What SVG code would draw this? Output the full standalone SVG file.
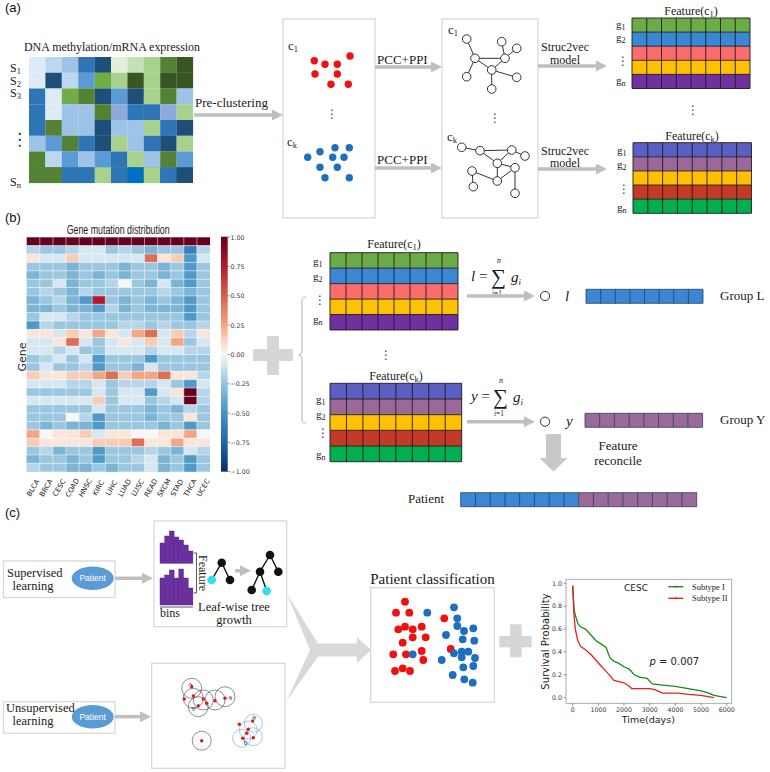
<svg xmlns="http://www.w3.org/2000/svg" xmlns:xlink="http://www.w3.org/1999/xlink" width="770" height="772" viewBox="0 0 770 772">
<defs>
<style>
.serif{font-family:"Liberation Serif","Times New Roman",serif;fill:#1a1a1a}
.sans{font-family:"Liberation Sans",Arial,sans-serif;fill:#1a1a1a}
.dv{font-family:"DejaVu Sans",sans-serif;fill:#222}
.panel{font-family:"Liberation Sans",Arial,sans-serif;font-size:13px;fill:#111}
.box{fill:#fff;stroke:#d6d6d6;stroke-width:1.2}
.conn{stroke:#bfbfbf;stroke-width:3.5;fill:none}
.grid{stroke:#1c1c1c;stroke-width:0.9;fill:none;vector-effect:non-scaling-stroke}
.bgrid{stroke:#2b3f5c;stroke-width:0.8;fill:none;vector-effect:non-scaling-stroke}
.gn{fill:#fff;stroke:#333;stroke-width:1}
.ge{stroke:#333;stroke-width:1;fill:none}
.vd{fill:#333}
.vl{fill:#ddebf7}.lb{fill:#bdd7ee}.l2{fill:#9dc3e6}.mb{fill:#5b9bd5}.bl{fill:#2e75b6}.db{fill:#1f4e79}.bb{fill:#0070c0}.lv{fill:#8fa9dc}
.vg{fill:#e2f0d9}.lg{fill:#c5e0b4}.l3{fill:#a9d18e}.gr{fill:#70ad47}.mg{fill:#548235}.dg{fill:#375623}
.hm .a{fill:#d6e7f1}.hm .b{fill:#b7d5e8}.hm .c{fill:#9ac6df}.hm .d{fill:#7cb4d6}.hm .e{fill:#4f9ac9}.hm .f{fill:#3a7fb8}
.hm .w{fill:#f7f7f7}.hm .p{fill:#f9e5da}.hm .q{fill:#f8cdb5}.hm .r{fill:#f3a683}.hm .s{fill:#dc6f55}.hm .t{fill:#b2182b}.hm .k{fill:#67001f}
.red{fill:#f01010}.blu{fill:#1f6fc0}
.plus{fill:#d6d6d6}
.tk{font-family:"DejaVu Sans",sans-serif;font-size:6.3px;fill:#333}
</style>
<marker id="ah" viewBox="0 0 11 11" refX="6" refY="5.5" markerWidth="11" markerHeight="11" markerUnits="userSpaceOnUse" orient="auto">
<path d="M0,0L11,5.5L0,11z" fill="#bfbfbf"/>
</marker>
<rect id="tc" width="16.5" height="15.85"/>
<rect id="hc" width="13.1" height="8.37"/>
<path id="g85" class="grid" d="M0,0H8V5H0Z M0,1H8 M0,2H8 M0,3H8 M0,4H8 M1,0V5 M2,0V5 M3,0V5 M4,0V5 M5,0V5 M6,0V5 M7,0V5"/>
<path id="g81" class="bgrid" d="M0,0H8V1H0Z M1,0V1 M2,0V1 M3,0V1 M4,0V1 M5,0V1 M6,0V1 M7,0V1"/>
<path id="g161" class="bgrid" d="M0,0H16V1H0Z M1,0V1 M2,0V1 M3,0V1 M4,0V1 M5,0V1 M6,0V1 M7,0V1 M8,0V1 M9,0V1 M10,0V1 M11,0V1 M12,0V1 M13,0V1 M14,0V1 M15,0V1"/>
<linearGradient id="cbar" x1="0" y1="0" x2="0" y2="1">
<stop offset="0" stop-color="#67001f"/><stop offset="0.125" stop-color="#b2182b"/><stop offset="0.25" stop-color="#d6604d"/><stop offset="0.375" stop-color="#f4a582"/><stop offset="0.45" stop-color="#fddbc7"/><stop offset="0.5" stop-color="#f7f7f7"/><stop offset="0.55" stop-color="#d1e5f0"/><stop offset="0.625" stop-color="#92c5de"/><stop offset="0.75" stop-color="#4393c3"/><stop offset="0.875" stop-color="#2166ac"/><stop offset="1" stop-color="#053061"/>
</linearGradient>
</defs>
<rect width="770" height="772" fill="#fff"/>

<text class="panel" x="5" y="12">(a)</text>
<text class="panel" x="5" y="222">(b)</text>
<text class="panel" x="5" y="517">(c)</text>

<!-- (a) input heatmap -->
<g id="omics-heatmap">
<text class="serif" x="24" y="51" font-size="12" textLength="176">DNA methylation/mRNA expression</text>
<g transform="translate(0,57)"><use href="#tc" x="29" class="vl"/><use href="#tc" x="45.4" class="lb"/><use href="#tc" x="61.8" class="l2"/><use href="#tc" x="78.2" class="bl"/><use href="#tc" x="94.6" class="db"/><use href="#tc" x="111" class="vg"/><use href="#tc" x="127.4" class="lg"/><use href="#tc" x="143.8" class="l3"/><use href="#tc" x="160.2" class="mg"/><use href="#tc" x="176.6" class="dg"/></g>
<g transform="translate(0,72.75)"><use href="#tc" x="29" class="vl"/><use href="#tc" x="45.4" class="db"/><use href="#tc" x="61.8" class="lb"/><use href="#tc" x="78.2" class="mb"/><use href="#tc" x="94.6" class="gr"/><use href="#tc" x="111" class="l3"/><use href="#tc" x="127.4" class="dg"/><use href="#tc" x="143.8" class="l3"/><use href="#tc" x="160.2" class="dg"/><use href="#tc" x="176.6" class="dg"/></g>
<g transform="translate(0,88.5)"><use href="#tc" x="29" class="bl"/><use href="#tc" x="45.4" class="vl"/><use href="#tc" x="61.8" class="gr"/><use href="#tc" x="78.2" class="mg"/><use href="#tc" x="94.6" class="db"/><use href="#tc" x="111" class="mb"/><use href="#tc" x="127.4" class="db"/><use href="#tc" x="143.8" class="l3"/><use href="#tc" x="160.2" class="mg"/><use href="#tc" x="176.6" class="l2"/></g>
<g transform="translate(0,104.25)"><use href="#tc" x="29" class="bl"/><use href="#tc" x="45.4" class="vl"/><use href="#tc" x="61.8" class="l2"/><use href="#tc" x="78.2" class="l2"/><use href="#tc" x="94.6" class="mg"/><use href="#tc" x="111" class="lv"/><use href="#tc" x="127.4" class="bl"/><use href="#tc" x="143.8" class="bl"/><use href="#tc" x="160.2" class="lv"/><use href="#tc" x="176.6" class="l3"/></g>
<g transform="translate(0,120)"><use href="#tc" x="29" class="bl"/><use href="#tc" x="45.4" class="mg"/><use href="#tc" x="61.8" class="l2"/><use href="#tc" x="78.2" class="l2"/><use href="#tc" x="94.6" class="db"/><use href="#tc" x="111" class="l2"/><use href="#tc" x="127.4" class="l2"/><use href="#tc" x="143.8" class="l3"/><use href="#tc" x="160.2" class="bl"/><use href="#tc" x="176.6" class="db"/></g>
<g transform="translate(0,135.75)"><use href="#tc" x="29" class="l2"/><use href="#tc" x="45.4" class="mb"/><use href="#tc" x="61.8" class="mg"/><use href="#tc" x="78.2" class="bl"/><use href="#tc" x="94.6" class="db"/><use href="#tc" x="111" class="l3"/><use href="#tc" x="127.4" class="l2"/><use href="#tc" x="143.8" class="bl"/><use href="#tc" x="160.2" class="db"/><use href="#tc" x="176.6" class="l3"/></g>
<g transform="translate(0,151.5)"><use href="#tc" x="29" class="mg"/><use href="#tc" x="45.4" class="lb"/><use href="#tc" x="61.8" class="mb"/><use href="#tc" x="78.2" class="l2"/><use href="#tc" x="94.6" class="mb"/><use href="#tc" x="111" class="bl"/><use href="#tc" x="127.4" class="l3"/><use href="#tc" x="143.8" class="l2"/><use href="#tc" x="160.2" class="mg"/><use href="#tc" x="176.6" class="mb"/></g>
<g transform="translate(0,167.25)"><rect x="29" width="164" height="15.75" fill="#548235"/><use href="#tc" x="29" class="mg"/><use href="#tc" x="45.4" class="mg"/><use href="#tc" x="61.8" class="bl"/><use href="#tc" x="78.2" class="bl"/><use href="#tc" x="94.6" class="l3"/><use href="#tc" x="111" class="bl"/><use href="#tc" x="127.4" class="bb"/><use href="#tc" x="143.8" class="l3"/><use href="#tc" x="160.2" class="bl"/><rect x="176.6" width="16.4" height="15.75" fill="#1f4e79"/></g>
<text class="serif" x="10" y="72" font-size="12">S<tspan font-size="8.5" dy="2">1</tspan></text>
<text class="serif" x="10" y="84.5" font-size="12">S<tspan font-size="8.5" dy="2">2</tspan></text>
<text class="serif" x="10" y="97" font-size="12">S<tspan font-size="8.5" dy="2">3</tspan></text>
<text class="dv vd" x="11" y="145" font-size="17">⋮</text>
<text class="serif" x="10" y="186" font-size="12">S<tspan font-size="8.5" dy="2">n</tspan></text>
</g>
<text class="serif" x="195" y="107" font-size="13">Pre-clustering</text>

<!-- clusters box -->
<g id="clusters">
<rect class="box" x="283" y="19" width="92" height="199"/>
<text class="serif" x="288" y="50" font-size="13">c<tspan font-size="8.5" dy="2">1</tspan></text>
<circle class="red" cx="314.3" cy="60.7" r="3.7"/><circle class="red" cx="325" cy="64.3" r="3.7"/><circle class="red" cx="337.3" cy="64.3" r="3.7"/><circle class="red" cx="350" cy="56" r="3.7"/><circle class="red" cx="315" cy="74" r="3.7"/><circle class="red" cx="337.3" cy="74" r="3.7"/><circle class="red" cx="331" cy="84.3" r="3.7"/><circle class="red" cx="348.3" cy="84.3" r="3.7"/>
<text class="dv vd" x="326" y="118" font-size="12">⋮</text>
<text class="serif" x="287" y="146" font-size="13">c<tspan font-size="8.5" dy="2">k</tspan></text>
<circle class="blu" cx="307.7" cy="157.3" r="3.7"/><circle class="blu" cx="320" cy="151.7" r="3.7"/><circle class="blu" cx="335" cy="147.7" r="3.7"/><circle class="blu" cx="349.3" cy="147.7" r="3.7"/><circle class="blu" cx="332.7" cy="157.3" r="3.7"/><circle class="blu" cx="344" cy="157.3" r="3.7"/><circle class="blu" cx="320" cy="167.3" r="3.7"/><circle class="blu" cx="337.3" cy="167.3" r="3.7"/><circle class="blu" cx="325" cy="177.7" r="3.7"/><circle class="blu" cx="349.3" cy="177.7" r="3.7"/>
</g>
<text class="serif" x="377" y="64" font-size="13">PCC+PPI</text>
<text class="serif" x="377" y="164" font-size="13">PCC+PPI</text>

<!-- graphs box -->
<g id="networks">
<rect class="box" x="442" y="19" width="96" height="199"/>
<text class="serif" x="448" y="34" font-size="13">c<tspan font-size="8.5" dy="2">1</tspan></text>
<path class="ge" d="M466.7,39L475,58.3L505,58.3L501.7,41.7M505,58.3L516.7,48.3M475,58.3L491.7,70L505,58.3M475,58.3L466.7,76.7M491.7,70L516.7,77.3M491.7,70L491.7,89"/>
<circle class="gn" cx="466.7" cy="39" r="4.3"/><circle class="gn" cx="501.7" cy="41.7" r="4.3"/><circle class="gn" cx="516.7" cy="48.3" r="4.3"/><circle class="gn" cx="475" cy="58.3" r="4.3"/><circle class="gn" cx="505" cy="58.3" r="4.3"/><circle class="gn" cx="491.7" cy="70" r="4.3"/><circle class="gn" cx="466.7" cy="76.7" r="4.3"/><circle class="gn" cx="516.7" cy="77.3" r="4.3"/><circle class="gn" cx="491.7" cy="89" r="4.3"/>
<text class="dv vd" x="489" y="122" font-size="12">⋮</text>
<text class="serif" x="447" y="141" font-size="13">c<tspan font-size="8.5" dy="2">k</tspan></text>
<path class="ge" d="M461.7,147.3L480,150.7L511.7,150L525,156M480,150.7L497.3,163.3L511.7,150M497.3,163.3L515,167.7L497.3,181L497.3,163.3M515,167.7L515,193.3M472,171L497.3,181M472,171L473.3,186.7"/>
<circle class="gn" cx="461.7" cy="147.3" r="4.3"/><circle class="gn" cx="480" cy="150.7" r="4.3"/><circle class="gn" cx="511.7" cy="150" r="4.3"/><circle class="gn" cx="525" cy="156" r="4.3"/><circle class="gn" cx="497.3" cy="163.3" r="4.3"/><circle class="gn" cx="515" cy="167.7" r="4.3"/><circle class="gn" cx="472" cy="171" r="4.3"/><circle class="gn" cx="497.3" cy="181" r="4.3"/><circle class="gn" cx="473.3" cy="186.7" r="4.3"/><circle class="gn" cx="515" cy="193.3" r="4.3"/>
</g>
<text class="serif" x="565" y="51" font-size="12" text-anchor="middle">Struc2vec</text>
<text class="serif" x="565" y="63.5" font-size="12" text-anchor="middle">model</text>
<text class="serif" x="565" y="154.5" font-size="12" text-anchor="middle">Struc2vec</text>
<text class="serif" x="565" y="167" font-size="12" text-anchor="middle">model</text>

<!-- top-right features -->
<g id="feature-c1-top">
<text class="serif" x="691" y="15" font-size="12" text-anchor="middle">Feature(c<tspan font-size="8.5" dy="2">1</tspan><tspan dy="-2">)</tspan></text>
<g transform="translate(632,18) scale(14.75,14.1)"><rect width="8" height="1" fill="#6aad46"/><rect y="1" width="8" height="1" fill="#3a87d3"/><rect y="2" width="8" height="1" fill="#fb6d6d"/><rect y="3" width="8" height="1" fill="#ffc000"/><rect y="4" width="8" height="1" fill="#7030a0"/><use href="#g85"/></g>
<text class="serif" x="616" y="28" font-size="11">g<tspan font-size="8" dy="2">1</tspan></text>
<text class="serif" x="616" y="41" font-size="11">g<tspan font-size="8" dy="2">2</tspan></text>
<text class="dv vd" x="617" y="65" font-size="12">⋮</text>
<text class="serif" x="616" y="84" font-size="11">g<tspan font-size="8" dy="2">n</tspan></text>
</g>
<text class="dv vd" x="687" y="114" font-size="12">⋮</text>
<g id="feature-ck-top">
<text class="serif" x="692" y="140" font-size="12" text-anchor="middle">Feature(c<tspan font-size="8.5" dy="2">k</tspan><tspan dy="-2">)</tspan></text>
<g transform="translate(633,142.7) scale(14.81,14.12)"><rect width="8" height="1" fill="#5b5ec2"/><rect y="1" width="8" height="1" fill="#9c689c"/><rect y="2" width="8" height="1" fill="#ffc000"/><rect y="3" width="8" height="1" fill="#c43a28"/><rect y="4" width="8" height="1" fill="#00b050"/><use href="#g85"/></g>
<text class="serif" x="617" y="154" font-size="11">g<tspan font-size="8" dy="2">1</tspan></text>
<text class="serif" x="617" y="168" font-size="11">g<tspan font-size="8" dy="2">2</tspan></text>
<text class="dv vd" x="618" y="193" font-size="12">⋮</text>
<text class="serif" x="617" y="211" font-size="11">g<tspan font-size="8" dy="2">n</tspan></text>
</g>

<!-- (b) gene mutation heatmap -->
<g id="gene-heatmap" class="hm">
<text class="sans" x="66.7" y="234" font-size="12" textLength="103" lengthAdjust="spacingAndGlyphs">Gene mutation distribution</text>
<rect x="26.7" y="237.3" width="183.3" height="8.37" class="k"/>
<g transform="translate(0,245.7)"><rect x="26.7" width="183.3" height="8.37" class="c"/><use href="#hc" x="26.7" class="b"/><use href="#hc" x="66" class="b"/><use href="#hc" x="79.1" class="a"/><use href="#hc" x="92.2" class="a"/><use href="#hc" x="118.3" class="b"/><use href="#hc" x="144.5" class="d"/><use href="#hc" x="183.8" class="f"/><use href="#hc" x="196.9" class="b"/></g>
<g transform="translate(0,254)"><rect x="26.7" width="183.3" height="8.37" class="a"/><use href="#hc" x="26.7" class="p"/><use href="#hc" x="66" class="q"/><use href="#hc" x="144.5" class="s"/><use href="#hc" x="157.6" class="p"/><use href="#hc" x="170.7" class="q"/><use href="#hc" x="183.8" class="e"/></g>
<g transform="translate(0,262.4)"><rect x="26.7" width="183.3" height="8.37" class="c"/><use href="#hc" x="66" class="d"/><use href="#hc" x="118.3" class="d"/><use href="#hc" x="157.6" class="d"/><use href="#hc" x="183.8" class="e"/></g>
<g transform="translate(0,270.8)"><rect x="26.7" width="183.3" height="8.37" class="c"/><use href="#hc" x="26.7" class="d"/><use href="#hc" x="66" class="d"/><use href="#hc" x="92.2" class="d"/><use href="#hc" x="118.3" class="d"/><use href="#hc" x="157.6" class="d"/><use href="#hc" x="183.8" class="e"/></g>
<g transform="translate(0,279.2)"><rect x="26.7" width="183.3" height="8.37" class="c"/><use href="#hc" x="52.9" class="a"/><use href="#hc" x="66" class="d"/><use href="#hc" x="105.3" class="b"/><use href="#hc" x="118.3" class="w"/><use href="#hc" x="144.5" class="d"/><use href="#hc" x="157.6" class="a"/><use href="#hc" x="170.7" class="d"/><use href="#hc" x="183.8" class="e"/></g>
<g transform="translate(0,287.5)"><rect x="26.7" width="183.3" height="8.37" class="c"/><use href="#hc" x="39.8" class="b"/><use href="#hc" x="66" class="d"/><use href="#hc" x="79.1" class="b"/><use href="#hc" x="157.6" class="b"/><use href="#hc" x="183.8" class="d"/></g>
<g transform="translate(0,295.9)"><rect x="26.7" width="183.3" height="8.37" class="c"/><use href="#hc" x="26.7" class="d"/><use href="#hc" x="52.9" class="b"/><use href="#hc" x="66" class="d"/><use href="#hc" x="79.1" class="e"/><use href="#hc" x="92.2" class="t"/><use href="#hc" x="118.3" class="d"/><use href="#hc" x="144.5" class="d"/><use href="#hc" x="170.7" class="d"/><use href="#hc" x="183.8" class="e"/></g>
<g transform="translate(0,304.3)"><rect x="26.7" width="183.3" height="8.37" class="d"/><use href="#hc" x="52.9" class="c"/><use href="#hc" x="92.2" class="e"/><use href="#hc" x="105.3" class="b"/><use href="#hc" x="131.4" class="c"/><use href="#hc" x="183.8" class="e"/><use href="#hc" x="196.9" class="c"/></g>
<g transform="translate(0,312.6)"><rect x="26.7" width="183.3" height="8.37" class="c"/><use href="#hc" x="39.8" class="a"/><use href="#hc" x="52.9" class="a"/><use href="#hc" x="66" class="b"/><use href="#hc" x="183.8" class="e"/></g>
<g transform="translate(0,321)"><rect x="26.7" width="183.3" height="8.37" class="c"/><use href="#hc" x="26.7" class="e"/><use href="#hc" x="39.8" class="b"/><use href="#hc" x="118.3" class="b"/><use href="#hc" x="131.4" class="b"/><use href="#hc" x="157.6" class="b"/><use href="#hc" x="196.9" class="b"/></g>
<g transform="translate(0,329.4)"><rect x="26.7" width="183.3" height="8.37" class="p"/><use href="#hc" x="52.9" class="a"/><use href="#hc" x="66" class="q"/><use href="#hc" x="92.2" class="r"/><use href="#hc" x="118.3" class="a"/><use href="#hc" x="131.4" class="r"/><use href="#hc" x="144.5" class="s"/><use href="#hc" x="157.6" class="a"/><use href="#hc" x="170.7" class="q"/><use href="#hc" x="183.8" class="b"/></g>
<g transform="translate(0,337.7)"><rect x="26.7" width="183.3" height="8.37" class="a"/><use href="#hc" x="52.9" class="p"/><use href="#hc" x="66" class="s"/><use href="#hc" x="92.2" class="c"/><use href="#hc" x="118.3" class="p"/><use href="#hc" x="144.5" class="q"/><use href="#hc" x="170.7" class="r"/><use href="#hc" x="183.8" class="c"/></g>
<g transform="translate(0,346.1)"><rect x="26.7" width="183.3" height="8.37" class="a"/><use href="#hc" x="52.9" class="b"/><use href="#hc" x="79.1" class="c"/><use href="#hc" x="92.2" class="c"/><use href="#hc" x="144.5" class="b"/><use href="#hc" x="183.8" class="b"/><use href="#hc" x="196.9" class="b"/></g>
<g transform="translate(0,354.5)"><rect x="26.7" width="183.3" height="8.37" class="c"/><use href="#hc" x="39.8" class="b"/><use href="#hc" x="52.9" class="a"/><use href="#hc" x="79.1" class="a"/><use href="#hc" x="92.2" class="e"/><use href="#hc" x="144.5" class="e"/></g>
<g transform="translate(0,362.9)"><rect x="26.7" width="183.3" height="8.37" class="c"/><use href="#hc" x="39.8" class="a"/><use href="#hc" x="79.1" class="b"/><use href="#hc" x="92.2" class="e"/><use href="#hc" x="131.4" class="d"/><use href="#hc" x="144.5" class="a"/></g>
<g transform="translate(0,371.2)"><rect x="26.7" width="183.3" height="8.37" class="p"/><use href="#hc" x="26.7" class="q"/><use href="#hc" x="66" class="q"/><use href="#hc" x="79.1" class="q"/><use href="#hc" x="92.2" class="r"/><use href="#hc" x="105.3" class="s"/><use href="#hc" x="118.3" class="q"/><use href="#hc" x="131.4" class="r"/><use href="#hc" x="144.5" class="r"/><use href="#hc" x="157.6" class="s"/><use href="#hc" x="196.9" class="b"/></g>
<g transform="translate(0,379.6)"><rect x="26.7" width="183.3" height="8.37" class="a"/><use href="#hc" x="66" class="b"/><use href="#hc" x="79.1" class="b"/><use href="#hc" x="105.3" class="c"/><use href="#hc" x="118.3" class="b"/><use href="#hc" x="131.4" class="b"/><use href="#hc" x="144.5" class="b"/><use href="#hc" x="170.7" class="c"/><use href="#hc" x="183.8" class="e"/></g>
<g transform="translate(0,388)"><rect x="26.7" width="183.3" height="8.37" class="c"/><use href="#hc" x="92.2" class="a"/><use href="#hc" x="118.3" class="a"/><use href="#hc" x="131.4" class="a"/><use href="#hc" x="144.5" class="e"/><use href="#hc" x="157.6" class="a"/><use href="#hc" x="170.7" class="p"/><use href="#hc" x="183.8" class="k"/><use href="#hc" x="196.9" class="b"/></g>
<g transform="translate(0,396.3)"><rect x="26.7" width="183.3" height="8.37" class="a"/><use href="#hc" x="92.2" class="q"/><use href="#hc" x="105.3" class="c"/><use href="#hc" x="144.5" class="c"/><use href="#hc" x="157.6" class="b"/><use href="#hc" x="183.8" class="k"/><use href="#hc" x="196.9" class="b"/></g>
<g transform="translate(0,404.7)"><rect x="26.7" width="183.3" height="8.37" class="c"/><use href="#hc" x="92.2" class="a"/><use href="#hc" x="144.5" class="d"/><use href="#hc" x="170.7" class="d"/><use href="#hc" x="183.8" class="b"/></g>
<g transform="translate(0,413.1)"><rect x="26.7" width="183.3" height="8.37" class="c"/><use href="#hc" x="66" class="w"/><use href="#hc" x="79.1" class="b"/><use href="#hc" x="92.2" class="e"/><use href="#hc" x="144.5" class="d"/><use href="#hc" x="183.8" class="p"/></g>
<g transform="translate(0,421.4)"><rect x="26.7" width="183.3" height="8.37" class="c"/><use href="#hc" x="39.8" class="d"/><use href="#hc" x="66" class="d"/><use href="#hc" x="79.1" class="d"/><use href="#hc" x="92.2" class="e"/><use href="#hc" x="157.6" class="d"/><use href="#hc" x="183.8" class="e"/></g>
<g transform="translate(0,429.8)"><rect x="26.7" width="183.3" height="8.37" class="p"/><use href="#hc" x="26.7" class="r"/><use href="#hc" x="39.8" class="w"/><use href="#hc" x="79.1" class="q"/><use href="#hc" x="92.2" class="a"/><use href="#hc" x="131.4" class="w"/><use href="#hc" x="144.5" class="w"/><use href="#hc" x="183.8" class="r"/><use href="#hc" x="196.9" class="w"/></g>
<g transform="translate(0,438.2)"><rect x="26.7" width="183.3" height="8.37" class="p"/><use href="#hc" x="26.7" class="q"/><use href="#hc" x="92.2" class="q"/><use href="#hc" x="105.3" class="q"/><use href="#hc" x="118.3" class="q"/><use href="#hc" x="131.4" class="s"/><use href="#hc" x="170.7" class="r"/></g>
<g transform="translate(0,446.6)"><rect x="26.7" width="183.3" height="8.37" class="c"/><use href="#hc" x="39.8" class="b"/><use href="#hc" x="52.9" class="d"/><use href="#hc" x="92.2" class="e"/><use href="#hc" x="144.5" class="b"/><use href="#hc" x="170.7" class="d"/><use href="#hc" x="183.8" class="a"/><use href="#hc" x="196.9" class="b"/></g>
<g transform="translate(0,454.9)"><rect x="26.7" width="183.3" height="8.37" class="c"/><use href="#hc" x="26.7" class="d"/><use href="#hc" x="66" class="d"/><use href="#hc" x="92.2" class="e"/><use href="#hc" x="131.4" class="b"/><use href="#hc" x="144.5" class="a"/><use href="#hc" x="157.6" class="d"/><use href="#hc" x="183.8" class="e"/></g>
<g transform="translate(0,463.3)"><rect x="26.7" width="183.3" height="8.37" class="c"/><use href="#hc" x="26.7" class="b"/><use href="#hc" x="66" class="d"/><use href="#hc" x="79.1" class="d"/><use href="#hc" x="105.3" class="d"/><use href="#hc" x="144.5" class="a"/><use href="#hc" x="157.6" class="d"/><use href="#hc" x="183.8" class="e"/></g>
<path stroke="#fff" stroke-width="0.5" fill="none" d="M39.8,237.3V471.7M52.9,237.3V471.7M66,237.3V471.7M79.1,237.3V471.7M92.2,237.3V471.7M105.3,237.3V471.7M118.3,237.3V471.7M131.4,237.3V471.7M144.5,237.3V471.7M157.6,237.3V471.7M170.7,237.3V471.7M183.8,237.3V471.7M196.9,237.3V471.7M26.7,245.7H210M26.7,254H210M26.7,262.4H210M26.7,270.8H210M26.7,279.2H210M26.7,287.5H210M26.7,295.9H210M26.7,304.3H210M26.7,312.6H210M26.7,321H210M26.7,329.4H210M26.7,337.7H210M26.7,346.1H210M26.7,354.5H210M26.7,362.9H210M26.7,371.2H210M26.7,379.6H210M26.7,388H210M26.7,396.3H210M26.7,404.7H210M26.7,413.1H210M26.7,421.4H210M26.7,429.8H210M26.7,438.2H210M26.7,446.6H210M26.7,454.9H210M26.7,463.3H210"/>
<text class="dv" font-size="11" transform="translate(25.5,357) rotate(-90)" text-anchor="middle">Gene</text>
<g class="dv" font-size="7" text-anchor="middle">
<text transform="translate(35,489) rotate(-60)">BLCA</text>
<text transform="translate(48.1,489) rotate(-60)">BRCA</text>
<text transform="translate(61.2,489) rotate(-60)">CESC</text>
<text transform="translate(74.3,489) rotate(-60)">COAD</text>
<text transform="translate(87.4,489) rotate(-60)">HNSC</text>
<text transform="translate(100.5,489) rotate(-60)">KIRC</text>
<text transform="translate(113.6,489) rotate(-60)">LIHC</text>
<text transform="translate(126.7,489) rotate(-60)">LUAD</text>
<text transform="translate(139.8,489) rotate(-60)">LUSC</text>
<text transform="translate(152.9,489) rotate(-60)">READ</text>
<text transform="translate(166,489) rotate(-60)">SKCM</text>
<text transform="translate(179.1,489) rotate(-60)">STAD</text>
<text transform="translate(192.2,489) rotate(-60)">THCA</text>
<text transform="translate(205.3,489) rotate(-60)">UCEC</text>
</g>
<rect x="221" y="236.7" width="6.7" height="235" fill="url(#cbar)"/>
<path stroke="#333" stroke-width="0.5" d="M227.7,237H230M227.7,266.4H230M227.7,295.8H230M227.7,325.1H230M227.7,354.5H230M227.7,383.9H230M227.7,413.3H230M227.7,442.6H230M227.7,471.5H230"/>
<g class="tk">
<text x="230.5" y="239.5">1.00</text><text x="230.5" y="268.9">0.75</text><text x="230.5" y="298.3">0.50</text><text x="230.5" y="327.6">0.25</text><text x="230.5" y="357">0.00</text><text x="230.5" y="386.4">−0.25</text><text x="230.5" y="415.8">−0.50</text><text x="230.5" y="445.1">−0.75</text><text x="230.5" y="474">−1.00</text>
</g>
</g>

<g id="plus-1"><rect class="plus" x="253" y="349" width="40" height="12"/><rect class="plus" x="267" y="336" width="12" height="39"/></g>
<path id="brace" d="M306,297 C301,297 302,300 302,306 L302,350 C302,353 301,355 299,355 C301,355 302,357 302,360 L302,417 C302,421 301,423 306,423" fill="none" stroke="#aaa" stroke-width="0.9"/>

<!-- middle features -->
<g id="feature-c1-mid">
<text class="serif" x="394" y="248" font-size="12" text-anchor="middle">Feature(c<tspan font-size="8.5" dy="2">1</tspan><tspan dy="-2">)</tspan></text>
<g transform="translate(330,252.7) scale(16,15.46)"><rect width="8" height="1" fill="#6aad46"/><rect y="1" width="8" height="1" fill="#3a87d3"/><rect y="2" width="8" height="1" fill="#fb6d6d"/><rect y="3" width="8" height="1" fill="#ffc000"/><rect y="4" width="8" height="1" fill="#7030a0"/><use href="#g85"/></g>
<text class="serif" x="313" y="265" font-size="11">g<tspan font-size="8" dy="2">1</tspan></text>
<text class="serif" x="313" y="280" font-size="11">g<tspan font-size="8" dy="2">2</tspan></text>
<text class="dv vd" x="314" y="304" font-size="12">⋮</text>
<text class="serif" x="313" y="323" font-size="11">g<tspan font-size="8" dy="2">n</tspan></text>
</g>
<text class="dv vd" x="380" y="359" font-size="12">⋮</text>
<g id="feature-ck-mid">
<text class="serif" x="396" y="380" font-size="12" text-anchor="middle">Feature(c<tspan font-size="8.5" dy="2">k</tspan><tspan dy="-2">)</tspan></text>
<g transform="translate(330,383.3) scale(16.46,15.68)"><rect width="8" height="1" fill="#5b5ec2"/><rect y="1" width="8" height="1" fill="#9c689c"/><rect y="2" width="8" height="1" fill="#ffc000"/><rect y="3" width="8" height="1" fill="#c43a28"/><rect y="4" width="8" height="1" fill="#00b050"/><use href="#g85"/></g>
<text class="serif" x="316" y="403" font-size="11">g<tspan font-size="8" dy="2">1</tspan></text>
<text class="serif" x="316" y="418" font-size="11">g<tspan font-size="8" dy="2">2</tspan></text>
<text class="dv vd" x="317" y="437" font-size="12">⋮</text>
<text class="serif" x="316" y="458" font-size="11">g<tspan font-size="8" dy="2">n</tspan></text>
</g>

<!-- formulas -->
<g id="formula-l">
<text class="serif" x="471" y="281" font-size="15"><tspan font-style="italic">l</tspan> =</text>
<text class="serif" x="491" y="284" font-size="21">∑</text>
<text class="serif" x="497" y="263" font-size="8" font-style="italic">n</text>
<text class="serif" x="492" y="295.5" font-size="7.5"><tspan font-style="italic">i</tspan>=1</text>
<text class="serif" x="511" y="282" font-size="15" font-style="italic">g<tspan font-size="9" dy="3">i</tspan></text>
</g>
<g id="formula-y">
<text class="serif" x="471" y="401" font-size="15"><tspan font-style="italic">y</tspan> =</text>
<text class="serif" x="493" y="404" font-size="21">∑</text>
<text class="serif" x="499" y="383" font-size="8" font-style="italic">n</text>
<text class="serif" x="494" y="416" font-size="7.5"><tspan font-style="italic">i</tspan>=1</text>
<text class="serif" x="513" y="402" font-size="15" font-style="italic">g<tspan font-size="9" dy="3">i</tspan></text>
</g>

<g id="group-l">
<circle cx="545" cy="296" r="4.6" fill="#fff" stroke="#333" stroke-width="1"/>
<text class="serif" x="565" y="301" font-size="15" font-style="italic">l</text>
<g transform="translate(586,289.3) scale(14.625,14)"><rect width="8" height="1" fill="#3a87d4"/><use href="#g81"/></g>
<text class="serif" x="720" y="300" font-size="13">Group L</text>
</g>
<g id="group-y">
<circle cx="545" cy="421.7" r="4.6" fill="#fff" stroke="#333" stroke-width="1"/>
<text class="serif" x="566" y="426" font-size="15" font-style="italic">y</text>
<g transform="translate(585,413.3) scale(14.7,14)"><rect width="8" height="1" fill="#9b6a9b"/><use href="#g81"/></g>
<text class="serif" x="720" y="424" font-size="13">Group Y</text>
</g>
<polygon id="reconcile-arrow" points="546,434 561,434 561,458 567.5,458 553.5,471.5 539.5,458 546,458" fill="#c8c8c8"/>
<text class="serif" x="618" y="450" font-size="13" text-anchor="middle">Feature</text>
<text class="serif" x="618" y="465" font-size="13" text-anchor="middle">reconcile</text>
<g id="patient-vector">
<text class="serif" x="408" y="503" font-size="13">Patient</text>
<g transform="translate(460.7,492.7) scale(14.75,14)"><rect width="8" height="1" fill="#3a87d4"/><rect x="8" width="8" height="1" fill="#9b6a9b"/><use href="#g161"/></g>
</g>

<!-- (c) -->
<g id="supervised">
<rect class="box" x="3.5" y="561" width="111.5" height="36.5"/>
<text class="serif" x="7" y="577" font-size="12.5">Supervised</text>
<text class="serif" x="33" y="590" font-size="12.5" text-anchor="middle">learning</text>
<ellipse cx="92.7" cy="578.3" rx="21" ry="11.7" fill="#5b9bd5"/>
<text class="sans" x="92.7" y="581.3" font-size="8.5" text-anchor="middle" style="fill:#fff">Patient</text>
</g>
<g id="lightgbm">
<rect class="box" x="154" y="521" width="132.7" height="105.7"/>
<g fill="#6b2fa0" stroke="#4a1d78" stroke-width="0.4">
<rect x="160" y="543" width="4.7" height="20.3"/><rect x="164.7" y="536" width="4.7" height="27.3"/><rect x="169.4" y="531" width="4.7" height="32.3"/><rect x="174.1" y="537" width="4.7" height="26.3"/><rect x="178.8" y="540" width="4.7" height="23.3"/><rect x="183.5" y="545" width="4.7" height="18.3"/><rect x="188.2" y="551" width="4.7" height="12.3"/>
<rect x="160" y="578" width="4.7" height="27"/><rect x="164.7" y="575" width="4.7" height="30"/><rect x="169.4" y="570" width="4.7" height="35"/><rect x="174.1" y="578" width="4.7" height="27"/><rect x="178.8" y="569" width="4.7" height="36"/><rect x="183.5" y="578" width="4.7" height="27"/><rect x="188.2" y="588" width="4.7" height="17"/>
</g>
<path d="M160,607H193M193.5,553H196.5V593H193.5" fill="none" stroke="#333" stroke-width="0.8"/>
<text class="serif" x="160" y="617" font-size="12">bins</text>
<text class="serif" font-size="12" text-anchor="middle" transform="translate(199,573) rotate(90)">Feature</text>
<path d="M221.7,562.7L211.7,580M221.7,562.7L230,580M270,555L260,571.7M270,555L278.3,571.7M260,571.7L251.7,590M260,571.7L266.7,591" stroke="#111" stroke-width="1.4" fill="none"/>
<circle cx="221.7" cy="562.7" r="4.3" fill="#111"/><circle cx="211.7" cy="580" r="4.3" fill="#2ee0f0"/><circle cx="230" cy="580" r="4.3" fill="#111"/>
<circle cx="270" cy="555" r="4.3" fill="#111"/><circle cx="260" cy="571.7" r="4.3" fill="#111"/><circle cx="278.3" cy="571.7" r="4.3" fill="#111"/><circle cx="251.7" cy="590" r="4.3" fill="#111"/><circle cx="266.7" cy="591" r="4.3" fill="#2ee0f0"/>
<text class="serif" x="234" y="611" font-size="12.5" text-anchor="middle">Leaf-wise tree</text>
<text class="serif" x="234" y="624" font-size="12.5" text-anchor="middle">growth</text>
</g>
<g id="unsupervised">
<rect class="box" x="3.5" y="701.7" width="111.5" height="31.6"/>
<text class="serif" x="6" y="712" font-size="12.5">Unsupervised</text>
<text class="serif" x="33" y="725" font-size="12.5" text-anchor="middle">learning</text>
<ellipse cx="92.7" cy="716.7" rx="21" ry="11.7" fill="#5b9bd5"/>
<text class="sans" x="92.7" y="719.7" font-size="8.5" text-anchor="middle" style="fill:#fff">Patient</text>
</g>
<g id="dbscan">
<rect class="box" x="151.7" y="663.3" width="133.3" height="105"/>
<g fill="none" stroke="#444" stroke-width="0.6">
<circle cx="191.7" cy="688.3" r="10"/><circle cx="193.3" cy="698.3" r="10"/><circle cx="203.3" cy="700" r="10"/><circle cx="198.3" cy="706.7" r="10"/><circle cx="215" cy="700" r="10"/><circle cx="225" cy="696.7" r="10"/><circle cx="201.7" cy="740.7" r="9.5"/>
</g>
<g fill="none" stroke="#6aa5d8" stroke-width="0.6">
<circle cx="253.3" cy="723.3" r="9"/><circle cx="248.3" cy="730" r="9"/><circle cx="241.7" cy="738.3" r="9"/><circle cx="253.3" cy="736.7" r="9"/>
</g>
<g fill="#e01818">
<circle cx="191.7" cy="686.7" r="1.7"/><circle cx="193.3" cy="696" r="1.7"/><circle cx="184.3" cy="699" r="1.7"/><circle cx="203.3" cy="699" r="1.7"/><circle cx="198.3" cy="705.7" r="1.7"/><circle cx="206.7" cy="703.3" r="1.7"/><circle cx="215" cy="700.7" r="1.7"/><circle cx="225" cy="698.3" r="1.7"/><circle cx="201.7" cy="740.7" r="1.7"/>
<circle cx="239.3" cy="724.3" r="1.7"/><circle cx="252.7" cy="721" r="1.7"/><circle cx="248.3" cy="729.3" r="1.7"/><circle cx="246.7" cy="733.3" r="1.7"/><circle cx="242.7" cy="738.3" r="1.7"/><circle cx="253.3" cy="737.7" r="1.7"/>
</g>
<g class="dv" font-size="6">
<text transform="translate(189,683) rotate(100)">c</text>
<text transform="translate(195,711) rotate(-80)">d</text>
<text transform="translate(229,696) rotate(100)">e</text>
<text transform="translate(255,720) rotate(-70)">a</text>
<text transform="translate(244,745) rotate(-10)">b</text>
</g>
</g>
<polygon id="merge-arrow" points="286.5,593 318,643.5 357,643.5 357,637 371,650 357,663 357,656.5 318,656.5 286.5,701 310,650" fill="#d9d9d9"/>

<g id="classification">
<text class="serif" x="432.5" y="584" font-size="15" text-anchor="middle">Patient classification</text>
<rect class="box" x="370.7" y="587.7" width="123.6" height="114.6"/>
<g class="red">
<circle cx="405" cy="601.7" r="3.9"/><circle cx="396" cy="612.7" r="3.9"/><circle cx="409.3" cy="612.7" r="3.9"/><circle cx="398.3" cy="629.3" r="3.9"/><circle cx="405" cy="626.7" r="3.9"/><circle cx="412.7" cy="629.3" r="3.9"/><circle cx="421.7" cy="626.7" r="3.9"/><circle cx="412.7" cy="637.3" r="3.9"/><circle cx="425.7" cy="637.3" r="3.9"/><circle cx="402.7" cy="642.7" r="3.9"/><circle cx="421.7" cy="651" r="3.9"/><circle cx="393.3" cy="654.3" r="3.9"/><circle cx="406" cy="654.3" r="3.9"/><circle cx="423.3" cy="660" r="3.9"/><circle cx="395" cy="671" r="3.9"/><circle cx="402.7" cy="668.3" r="3.9"/><circle cx="410" cy="671" r="3.9"/><circle cx="444.3" cy="618.3" r="3.9"/><circle cx="450.7" cy="649" r="3.9"/>
</g>
<g class="blu">
<circle cx="427.3" cy="612.7" r="3.9"/><circle cx="454" cy="607.3" r="3.9"/><circle cx="457.3" cy="618.3" r="3.9"/><circle cx="457.3" cy="626" r="3.9"/><circle cx="464" cy="631" r="3.9"/><circle cx="473.3" cy="628.3" r="3.9"/><circle cx="446" cy="635" r="3.9"/><circle cx="462.7" cy="639.3" r="3.9"/><circle cx="474.3" cy="640.7" r="3.9"/><circle cx="412.7" cy="654.3" r="3.9"/><circle cx="454" cy="653.3" r="3.9"/><circle cx="461.7" cy="651.7" r="3.9"/><circle cx="468.3" cy="651.7" r="3.9"/><circle cx="461.7" cy="657.3" r="3.9"/><circle cx="475" cy="658" r="3.9"/><circle cx="441.7" cy="660" r="3.9"/><circle cx="463.3" cy="667.3" r="3.9"/><circle cx="473.3" cy="666" r="3.9"/><circle cx="452.7" cy="675" r="3.9"/><circle cx="464.3" cy="679.3" r="3.9"/><circle cx="472.7" cy="682.7" r="3.9"/>
</g>
</g>
<g id="plus-2"><rect class="plus" x="499.3" y="636" width="32.4" height="11.3"/><rect class="plus" x="510" y="624.3" width="11.7" height="33"/></g>

<g id="survival">
<rect x="566" y="579.3" width="165.7" height="124" fill="#fff" stroke="#999" stroke-width="0.8"/>
<path stroke="#555" stroke-width="0.6" d="M563.5,583.3H566M563.5,606.2H566M563.5,629.1H566M563.5,651.9H566M563.5,674.8H566M563.5,697.7H566M572.7,703.3V706M598.4,703.3V706M624,703.3V706M649.7,703.3V706M675.4,703.3V706M701,703.3V706M726.7,703.3V706"/>
<g class="tk" text-anchor="end">
<text x="562" y="585.5">1.0</text><text x="562" y="608.4">0.8</text><text x="562" y="631.3">0.6</text><text x="562" y="654.1">0.4</text><text x="562" y="677">0.2</text><text x="562" y="699.9">0.0</text>
</g>
<g class="tk" text-anchor="middle">
<text x="572.7" y="711.8">0</text><text x="598.4" y="711.8">1000</text><text x="624" y="711.8">2000</text><text x="649.7" y="711.8">3000</text><text x="675.4" y="711.8">4000</text><text x="701" y="711.8">5000</text><text x="726.7" y="711.8">6000</text>
</g>
<text class="dv" x="648.3" y="722.5" font-size="9.5" text-anchor="middle">Time(days)</text>
<text class="dv" font-size="10" text-anchor="middle" transform="translate(549,641.5) rotate(-90)">Survival Probability</text>
<text class="dv" x="624" y="590.5" font-size="9">CESC</text>
<path d="M668.3,586.7H683.3" stroke="#1a8a1a" stroke-width="1.4"/><circle cx="675.8" cy="586.7" r="1" fill="#1a8a1a"/>
<path d="M668.3,598.3H683.3" stroke="#e8211d" stroke-width="1.4"/><circle cx="675.8" cy="598.3" r="1" fill="#e8211d"/>
<text class="serif" x="692" y="589.5" font-size="8.5">Subtype I</text>
<text class="serif" x="692" y="601" font-size="8.5">Subtype II</text>
<text class="dv" x="649.5" y="665" font-size="10"><tspan font-style="italic">p</tspan> = 0.007</text>
<polyline fill="none" stroke="#1a8a1a" stroke-width="1.3" points="572.7,585.6 574,608.5 575.3,615.3 577.8,623.3 580.4,626.8 585.5,629.1 590.7,634.8 595.8,640.5 600.9,643.9 606.1,647.4 609.9,657.7 613.8,661.1 618.9,663.4 624,666.8 629.2,669.1 634.3,674.8 639.4,677.1 647.1,678.3 652.3,684 662.5,685.1 675.4,686.3 688.2,688.6 701,690.8 708.7,693.1 713.9,695.4 726.7,697.7"/>
<polyline fill="none" stroke="#e8211d" stroke-width="1.3" points="572.7,585.6 574,615.3 575.3,629.1 577.8,640.5 580.4,646.2 585.5,649.7 590.7,654.2 595.8,660 600.9,665.7 606.1,671.4 611.2,677.1 613.8,680.5 618.9,681.7 624,682.8 629.2,686.3 631.7,688.6 649.7,688.6 654.8,689.7 662.5,693.1 677.9,693.1 688.2,694.3 701,695.4 713.9,697.7"/>
</g>

<g id="connectors">
<line class="conn" x1="194" y1="115" x2="278" y2="115" marker-end="url(#ah)"/>
<line class="conn" x1="375" y1="67" x2="437" y2="67" marker-end="url(#ah)"/>
<line class="conn" x1="375" y1="168" x2="437" y2="168" marker-end="url(#ah)"/>
<line class="conn" x1="538" y1="66" x2="602" y2="66" marker-end="url(#ah)"/>
<line class="conn" x1="538" y1="169" x2="602" y2="169" marker-end="url(#ah)"/>
<line class="conn" x1="467" y1="296" x2="530" y2="296" marker-end="url(#ah)"/>
<line class="conn" x1="467" y1="421.7" x2="530" y2="421.7" marker-end="url(#ah)"/>
<line class="conn" x1="115" y1="578.3" x2="148" y2="578.3" marker-end="url(#ah)"/>
<line class="conn" x1="115" y1="716.7" x2="146" y2="716.7" marker-end="url(#ah)"/>
<line class="conn" x1="235" y1="570.7" x2="246" y2="570.7" marker-end="url(#ah)"/>
</g>
</svg>
